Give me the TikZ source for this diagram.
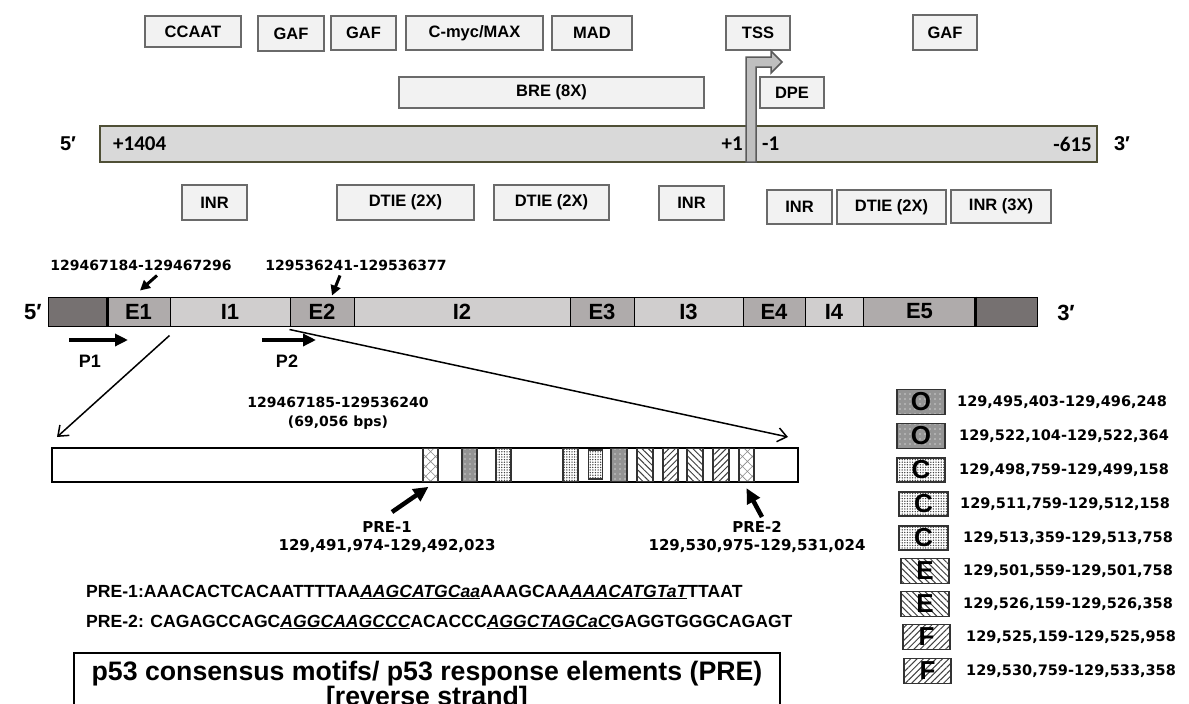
\documentclass[tikz,border=0pt]{standalone}
\usepackage{fontspec}
\setmainfont{Liberation Sans}
\newfontfamily\dvsans{DejaVu Sans}
\newfontfamily\carlito{Carlito}
\usetikzlibrary{arrows.meta,calc,patterns.meta}

\definecolor{motiffill}{HTML}{F2F2F2}
\definecolor{motifline}{HTML}{6A6A6A}
\definecolor{promfill}{HTML}{D9D9D9}
\definecolor{promline}{HTML}{4F4F36}
\definecolor{tssfill}{HTML}{BFBFBF}
\definecolor{tssline}{HTML}{5A5A5A}
\definecolor{utrfill}{HTML}{767171}
\definecolor{exonfill}{HTML}{AFABAB}
\definecolor{intronfill}{HTML}{D0CECE}

\tikzset{
  motif/.style={draw=motifline, fill=motiffill, line width=2.2pt, inner sep=0pt, minimum height=34pt, font=\bfseries\fontsize{16.5}{18}\selectfont},
  prom/.style={draw=promline, fill=promfill, line width=2pt, minimum height=36pt, inner sep=0pt},
  promlabel/.style={font=\carlito\bfseries\fontsize{21}{22}\selectfont, inner sep=0pt},
  endlabel/.style={font=\bfseries\fontsize{20}{22}\selectfont, inner sep=0pt},
  utrseg/.style={draw=black, line width=1pt, fill=utrfill, minimum height=29pt, inner sep=0pt},
  exon/.style={draw=black, line width=1pt, fill=exonfill, minimum height=29pt, inner sep=0pt, font=\bfseries\fontsize{22}{24}\selectfont},
  intron/.style={draw=black, line width=1pt, fill=intronfill, minimum height=29pt, inner sep=0pt, font=\bfseries\fontsize{22}{24}\selectfont},
  coordlabel/.style={font=\dvsans\bfseries\fontsize{14}{16}\selectfont, inner sep=0pt},
  primer/.style={font=\bfseries\fontsize{18}{20}\selectfont, inner sep=0pt},
  fatarrow/.style={-{Triangle[length=13pt,width=12pt]}, line width=3.5pt},
  tagarrow/.style={-{Triangle[length=10pt,width=10pt]}, line width=3pt},
  prearrow/.style={-{Triangle[length=15pt,width=14pt]}, line width=4.5pt},
  zoomline/.style={-{Straight Barb[length=9pt,width=14pt]}, line width=1.5pt},
  insetbar/.style={draw=black, line width=2pt, fill=white, inner sep=0pt, minimum height=34pt},
  sitebox/.style={draw=black!80, line width=1.3pt, inner sep=0pt, minimum width=15pt, minimum height=33pt},
  presite/.style={pattern={Hatch[angle=45,distance=7pt,line width=0.6pt]}, pattern color=black!45},
  osite/.style={preaction={fill=black!42}, pattern={Dots[distance=5pt,radius=0.8pt]}, pattern color=white!80!black},
  csite/.style={pattern={Dots[distance=2.6pt,radius=0.75pt]}, pattern color=black!75},
  esite/.style={pattern={Lines[angle=-45,distance=4.5pt,line width=1pt]}, pattern color=black!75},
  fsite/.style={pattern={Lines[angle=45,distance=4.5pt,line width=1pt]}, pattern color=black!75},
  legendkey/.style={draw=black!80, line width=1.5pt, inner sep=0pt, minimum width=48pt, minimum height=25pt, font=\bfseries\fontsize{26}{26}\selectfont},
  legendtext/.style={anchor=west, inner sep=0pt, font=\dvsans\bfseries\fontsize{14.5}{16}\selectfont},
  seqtext/.style={anchor=west, inner sep=0pt, font=\bfseries\fontsize{17.6}{19}\selectfont},
  titlebox/.style={draw=black, line width=1.5pt, fill=white, inner sep=0pt, align=center, font=\bfseries\fontsize{26.7}{25}\selectfont}
}

\begin{document}
\begin{tikzpicture}[x=1pt,y=-1pt]
  \useasboundingbox (0,0) rectangle (1189,704);
  % promoter: motifs above the bar
  \node[motif, minimum width=96pt, minimum height=31pt] (ccaat) at (193,31.5) {CCAAT};
  \node[motif, minimum width=66pt, minimum height=35pt] (gafa) at (291,33.5) {GAF};
  \node[motif, minimum width=65pt] (gafb) at (363.5,33) {GAF};
  \node[motif, minimum width=137pt] (cmyc) at (474.5,33) {C-myc/MAX};
  \node[motif, minimum width=80pt] (mad) at (592,33) {MAD};
  \node[motif, minimum width=64pt] (tss) at (758,33) {TSS};
  \node[motif, minimum width=64pt, minimum height=35pt] (gafc) at (945,32.5) {GAF};
  \node[motif, minimum width=305pt, minimum height=31pt] (bre) at (551.5,92.5) {BRE (8X)};
  \node[motif, minimum width=64pt, minimum height=31pt] (dpe) at (792,92.5) {DPE};
  % promoter bar
  \node[prom, minimum width=997pt] (prom) at (598.5,144) {};
  \node[endlabel] (pfive) at (68,144) {5′};
  \node[endlabel] (pthree) at (1122,144) {3′};
  \node[promlabel, anchor=west] (plus1404) at (113,144) {+1404};
  \node[promlabel, anchor=east] (plusone) at (743,144) {+1};
  \node[promlabel, anchor=west] (minusone) at (762,144) {-1};
  \node[promlabel, anchor=east] (minus615) at (1092,144) {-615};
  \draw[tssline, fill=tssfill, line width=1.5pt] (746,162) -- (746,57) -- (771,57) -- (771,51) -- (782,62)
    -- (771,73) -- (771,67) -- (756,67) -- (756,162) -- cycle;
  % promoter: motifs below the bar
  \node[motif, minimum width=65pt, minimum height=35pt] (inra) at (214.5,202.5) {INR};
  \node[motif, minimum width=137pt, minimum height=35pt] (dtiea) at (405.5,202.5) {DTIE (2X)};
  \node[motif, minimum width=115pt, minimum height=35pt] (dtieb) at (551.5,202.5) {DTIE (2X)};
  \node[motif, minimum width=65pt] (inrb) at (691.5,203) {INR};
  \node[motif, minimum width=65pt] (inrc) at (799.5,207) {INR};
  \node[motif, minimum width=109pt] (dtiec) at (891.5,207) {DTIE (2X)};
  \node[motif, minimum width=100pt, minimum height=33pt] (inrx) at (1001,206.5) {INR (3X)};

  % gene structure
  \node[utrseg, minimum width=59pt] (utra) at (77.5,311.5) {};
  \node[exon, minimum width=63pt] (e1) at (138.5,311.5) {E1};
  \node[intron, minimum width=120pt] (i1) at (230,311.5) {I1};
  \node[exon, minimum width=64pt] (e2) at (322,311.5) {E2};
  \node[intron, minimum width=216pt] (i2) at (462,311.5) {I2};
  \node[exon, minimum width=64pt] (e3) at (602,311.5) {E3};
  \node[intron, minimum width=109pt] (i3) at (688.5,311.5) {I3};
  \node[exon, minimum width=62pt] (e4) at (774,311.5) {E4};
  \node[intron, minimum width=58pt] (i4) at (834,311.5) {I4};
  \node[exon, minimum width=113pt] (e5) at (919.5,311.5) {E5};
  \node[utrseg, minimum width=61pt] (utrb) at (1006.5,311.5) {};
  \draw[line width=2.5pt] (utra.north east) -- (utra.south east);
  \draw[line width=2.5pt] (utrb.north west) -- (utrb.south west);
  \node[endlabel, font=\bfseries\fontsize{22}{24}\selectfont] (gfive) at (33,312) {5′};
  \node[endlabel, font=\bfseries\fontsize{22}{24}\selectfont] (gthree) at (1066,313) {3′};
  \node[coordlabel] (lab1) at (141,265) {129467184-129467296};
  \node[coordlabel] (lab2) at (356,265) {129536241-129536377};
  \draw[tagarrow] ($(lab1.south)+(16,5)$) -- ($(e1.north)+(1.5,-6)$);
  \draw[tagarrow] ($(lab2.south)+(-16,5)$) -- ($(e2.north)+(10,-1)$);
  \coordinate (p1a) at (69,340);
  \coordinate (p1b) at (128,340);
  \coordinate (p2a) at (262,340);
  \coordinate (p2b) at (316,340);
  \draw[fatarrow] (p1a) -- (p1b);
  \draw[fatarrow] (p2a) -- (p2b);
  \node[primer] (pone) at (90,361) {P1};
  \node[primer] (ptwo) at (287,361) {P2};

  % intron 1 zoom
  \node[insetbar, minimum width=746pt] (inset) at (425,465) {};
  \draw[zoomline] ($(i1.south west)+(0,9)$) -- ($(inset.north west)+(6,-10)$);
  \draw[zoomline] ($(e2.south west)+(0,3)$) -- ($(inset.north east)+(-11,-10)$);
  \node[coordlabel, font=\dvsans\bfseries\fontsize{14}{19}\selectfont, align=center] (span) at (338,413.5) {129467185-129536240\\(69,056 bps)};
  \node[sitebox, presite] (prea) at (430.5,465) {};
  \node[sitebox, osite] (oa) at (469.5,465) {};
  \node[sitebox, csite] (ca) at (503.5,465) {};
  \node[sitebox, csite] (cb) at (570.5,465) {};
  \node[sitebox, csite, minimum width=14pt, minimum height=29pt] (cc) at (595.5,464.5) {};
  \node[sitebox, osite, minimum width=16pt] (ob) at (619,465) {};
  \node[sitebox, esite, minimum width=16pt] (ea) at (645,465) {};
  \node[sitebox, fsite] (fa) at (670.5,465) {};
  \node[sitebox, esite, minimum width=16pt] (eb) at (695,465) {};
  \node[sitebox, fsite, minimum width=16pt] (fb) at (721,465) {};
  \node[sitebox, presite] (preb) at (746.5,465) {};
  \coordinate (preatail) at (392,512);
  \coordinate (prebtail) at (762,517);
  \draw[prearrow] (preatail) -- ($(prea.south)+(-2,5)$);
  \draw[prearrow] (prebtail) -- ($(preb.south)+(0,6)$);
  \node[coordlabel, font=\dvsans\bfseries\fontsize{15}{18}\selectfont, align=center] (prealab) at (387,537) {PRE-1\\129,491,974-129,492,023};
  \node[coordlabel, font=\dvsans\bfseries\fontsize{15}{18}\selectfont, align=center] (preblab) at (757,537) {PRE-2\\129,530,975-129,531,024};

  % sequences and caption
  \node[seqtext] (seqa) at (86,592) {PRE-1:AAACACTCACAATTTTAA\underline{\itshape AAGCATGCaa}AAAGCAA\underline{\itshape AAACATGTaT}TTAAT};
  \node[seqtext] (seqb) at (86,622) {PRE-2: CAGAGCCAGC\underline{\itshape AGGCAAGCCC}ACACCC\underline{\itshape AGGCTAGCaC}GAGGTGGGCAGAGT};
  \node[titlebox, minimum width=706pt, minimum height=66pt] (caption) at (427,686) {p53 consensus motifs/ p53 response elements (PRE)\\{[reverse strand]}};

  % legend
  \node[legendkey, osite] (keya) at (921,402) {O};
  \node[legendkey, osite] (keyb) at (921,436) {O};
  \node[legendkey, csite, minimum height=24pt] (keyc) at (921,470) {C};
  \node[legendkey, csite, minimum width=49pt, minimum height=24pt] (keyd) at (923.5,504) {C};
  \node[legendkey, csite, minimum width=49pt, minimum height=24pt] (keye) at (923.5,538) {C};
  \node[legendkey, esite] (keyf) at (925,571) {E};
  \node[legendkey, esite] (keyg) at (925,604) {E};
  \node[legendkey, fsite, minimum width=47pt] (keyh) at (926.5,637) {F};
  \node[legendkey, fsite, minimum width=47pt] (keyi) at (927.5,671) {F};
  \node[legendtext] (txta) at (957,402) {129,495,403-129,496,248};
  \node[legendtext] (txtb) at (959,436) {129,522,104-129,522,364};
  \node[legendtext] (txtc) at (959,470) {129,498,759-129,499,158};
  \node[legendtext] (txtd) at (960,504) {129,511,759-129,512,158};
  \node[legendtext] (txte) at (963,538) {129,513,359-129,513,758};
  \node[legendtext] (txtf) at (963,571) {129,501,559-129,501,758};
  \node[legendtext] (txtg) at (963,604) {129,526,159-129,526,358};
  \node[legendtext] (txth) at (966,637) {129,525,159-129,525,958};
  \node[legendtext] (txti) at (966,671) {129,530,759-129,533,358};
\end{tikzpicture}
\end{document}
